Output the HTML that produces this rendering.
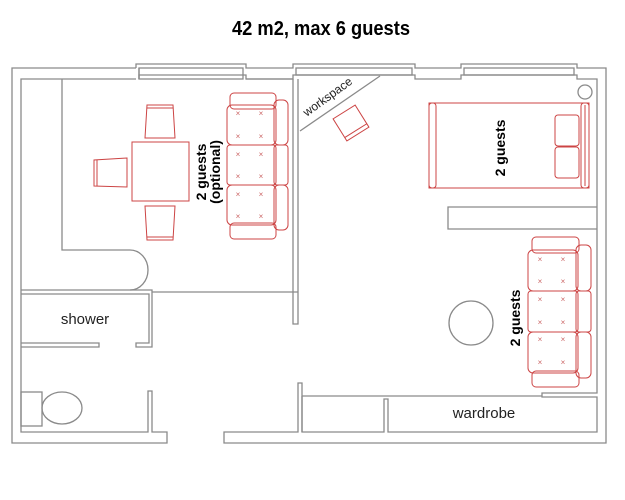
<!DOCTYPE html>
<html><head><style>body{margin:0;background:#fff}svg{display:block}</style></head>
<body>
<svg width="625" height="500" viewBox="0 0 625 500" xmlns="http://www.w3.org/2000/svg" font-family="Liberation Sans, sans-serif">
<text x="321" y="35" text-anchor="middle" font-size="20" font-weight="bold" fill="#000" textLength="178" lengthAdjust="spacingAndGlyphs">42 m2, max 6 guests</text>
<g fill="none" stroke="#8a8a8a" stroke-width="1.3">
<polyline points="136,68 12,68 12,443 167,443 167,432 152,432 152,391 148,391 148,432 21,432 21,79 136,79"/>
<polyline points="136,68 136,64 246,64 246,68 293,68 293,64 415,64 415,68 461,68 461,64 577,64 577,68 606,68 606,443 224,443 224,432 298,432 298,383 302,383 302,432 384,432 384,399 388,399 388,432 597,432 597,397 542,397 542,393 597,393 597,79 577,79 577,75 461,75 461,79 415,79 415,75 293,75 293,79 246,79 246,75 139,75 139,79"/>
<line x1="246" y1="79" x2="293" y2="79"/>
<line x1="139" y1="68" x2="139" y2="79"/>
<rect x="139" y="68" width="104" height="11"/>
<rect x="296" y="68" width="116" height="7"/>
<rect x="464" y="68" width="110" height="7"/>
<polyline points="62,79 62,250 130,250"/>
<path d="M130,250 A18,20 0 0 1 130,290"/>
<polyline points="21,290 152,290 152,347 136,347 136,343 149,343 149,294 21,294"/>
<line x1="152" y1="292" x2="298" y2="292"/>
<polyline points="21,343 99,343 99,347 21,347"/>
<polyline points="293,79 293,324 298,324 298,79"/>
<line x1="302" y1="396" x2="542" y2="396"/>
<line x1="302" y1="396" x2="302" y2="432"/>
<rect x="21" y="392" width="21" height="34"/>
<ellipse cx="62" cy="408" rx="20" ry="16"/>
<ellipse cx="471" cy="323" rx="22" ry="22"/>
<polyline points="597,207 448,207 448,229 597,229"/>
<line x1="300" y1="131" x2="380" y2="76"/>
<circle cx="585" cy="92" r="7"/>
</g>
<g fill="none" stroke="#cc4444" stroke-width="1">
<rect x="132" y="142" width="57" height="59"/>
<path d="M145,138 L147,105 L173,105 L175,138 Z"/><line x1="147" y1="108" x2="173" y2="108"/>
<path d="M145,206 L147,240 L173,240 L175,206 Z"/><line x1="147" y1="237" x2="173" y2="237"/>
<path d="M127,158 L94,160 L94,186 L127,187 Z"/><line x1="97" y1="160" x2="97" y2="186"/>
<rect x="230" y="93" width="46" height="16" rx="4"/>
<rect x="230" y="223" width="46" height="16" rx="4"/>
<rect x="274" y="100" width="14" height="45" rx="5"/>
<rect x="274" y="145" width="14" height="40" rx="3"/>
<rect x="274" y="185" width="14" height="45" rx="5"/>
<rect x="227" y="105" width="49" height="40" rx="5"/>
<rect x="227" y="145" width="49" height="40" rx="3"/>
<rect x="227" y="185" width="49" height="40" rx="5"/>
<rect x="532" y="237" width="47" height="16" rx="4"/>
<rect x="532" y="371" width="47" height="16" rx="4"/>
<rect x="576" y="245" width="15" height="46" rx="5"/>
<rect x="576" y="291" width="15" height="41" rx="3"/>
<rect x="576" y="332" width="15" height="46" rx="5"/>
<rect x="528" y="250" width="50" height="41" rx="5"/>
<rect x="528" y="291" width="50" height="41" rx="3"/>
<rect x="528" y="332" width="50" height="41" rx="5"/>
<rect x="429" y="103" width="160" height="85"/>
<rect x="429" y="103" width="7" height="85" rx="3"/>
<rect x="581" y="103" width="8" height="85" rx="3"/>
<line x1="585" y1="105" x2="585" y2="186"/>
<rect x="555" y="115" width="24" height="31" rx="3"/>
<rect x="555" y="147" width="24" height="31" rx="3"/>
<g transform="translate(351,123) rotate(-32)"><rect x="-13" y="-13" width="26" height="26"/><line x1="-13" y1="9" x2="13" y2="9"/></g>
</g>
<g fill="#cc6666" font-size="8" text-anchor="middle">
<text x="238" y="116">×</text><text x="261" y="116">×</text>
<text x="238" y="139">×</text><text x="261" y="139">×</text>
<text x="238" y="157">×</text><text x="261" y="157">×</text>
<text x="238" y="179">×</text><text x="261" y="179">×</text>
<text x="238" y="197">×</text><text x="261" y="197">×</text>
<text x="238" y="219">×</text><text x="261" y="219">×</text>
<text x="540" y="262">×</text><text x="563" y="262">×</text>
<text x="540" y="284">×</text><text x="563" y="284">×</text>
<text x="540" y="302">×</text><text x="563" y="302">×</text>
<text x="540" y="325">×</text><text x="563" y="325">×</text>
<text x="540" y="342">×</text><text x="563" y="342">×</text>
<text x="540" y="365">×</text><text x="563" y="365">×</text>
</g>
<g font-size="14" font-weight="bold" fill="#000" text-anchor="middle">
<text transform="translate(206,172) rotate(-90)">2 guests</text>
<text transform="translate(220,172) rotate(-90)">(optional)</text>
<text transform="translate(505,148) rotate(-90)">2 guests</text>
<text transform="translate(520,318) rotate(-90)">2 guests</text>
</g>
<g font-size="15" fill="#222" text-anchor="middle">
<text x="85" y="324">shower</text>
<text x="484" y="418">wardrobe</text>
<text transform="translate(330,100) rotate(-36)" font-size="12">workspace</text>
</g>
</svg>
</body></html>
